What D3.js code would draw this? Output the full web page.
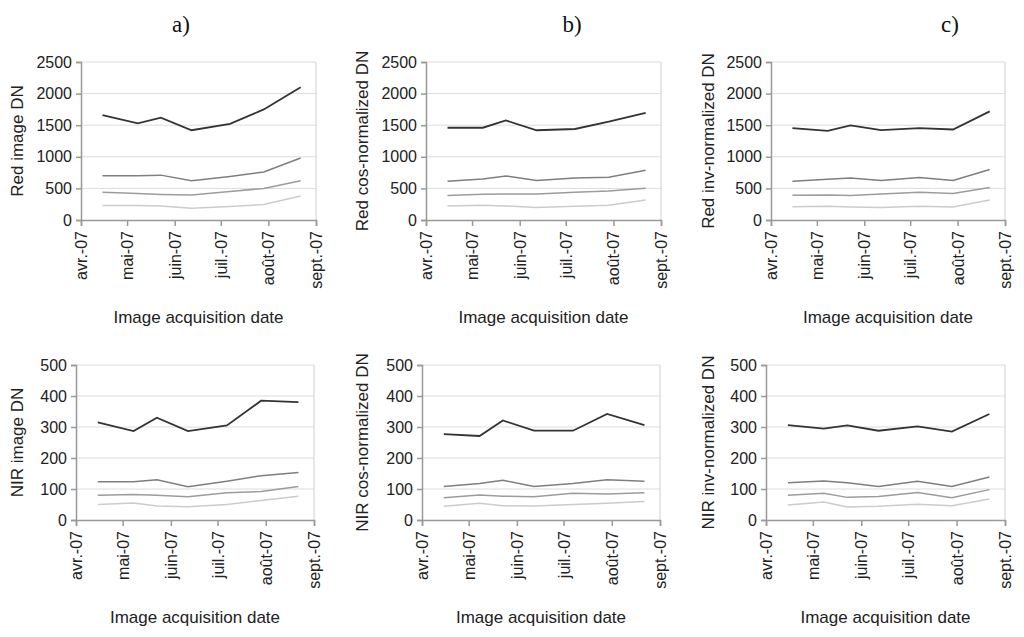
<!DOCTYPE html>
<html>
<head>
<meta charset="utf-8">
<script src="https://cdn.jsdelivr.net/npm/d3@7"></script>
<style>
  body { margin: 0; background: #fff; }
  text { font-family: "Liberation Sans", Arial, sans-serif; fill: #222; }
</style>
</head>
<body>
<svg id="chart" width="1024" height="637"></svg>
<script>
// acquisition dates (approx. read from the x positions)
var dates = ["2007-04-15", "2007-05-08", "2007-05-23", "2007-06-12", "2007-07-07", "2007-07-29", "2007-08-22"];
var tickDates = ["2007-04-01", "2007-05-01", "2007-06-01", "2007-07-01", "2007-08-01", "2007-09-01"];
var tickLabels = ["avr.-07", "mai-07", "juin-07", "juil.-07", "août-07", "sept.-07"];
var panelTitles = ["a)", "b)", "c)"];

// four land-cover series per panel, darkest first
var redImage = [
  [1660, 1530, 1620, 1420, 1520, 1750, 2100],
  [700, 700, 710, 620, 690, 760, 980],
  [440, 420, 405, 395, 450, 500, 620],
  [230, 230, 220, 185, 215, 245, 380]
];
var redCos = [
  [1460, 1460, 1575, 1420, 1440, 1555, 1695],
  [613, 650, 698, 624, 666, 677, 788],
  [386, 408, 410, 410, 439, 460, 502],
  [222, 233, 222, 196, 217, 233, 317]
];
var redInv = [
  [1453, 1411, 1496, 1422, 1453, 1432, 1718],
  [613, 645, 666, 624, 671, 624, 798],
  [391, 396, 386, 412, 439, 418, 513],
  [211, 217, 206, 196, 217, 206, 317]
];
var nirImage = [
  [315, 287, 330, 287, 305, 385, 380],
  [123, 123, 130, 107, 125, 143, 153],
  [80, 82, 80, 75, 88, 92, 108],
  [50, 55, 45, 43, 50, 63, 77]
];
var nirCos = [
  [277, 271, 321, 288, 288, 342, 306],
  [108, 118, 128, 108, 118, 130, 125],
  [72, 81, 77, 75, 86, 84, 88],
  [44, 54, 46, 45, 50, 54, 60]
];
var nirInv = [
  [306, 295, 305, 288, 302, 285, 342],
  [120, 126, 120, 108, 125, 108, 139],
  [80, 86, 73, 76, 89, 72, 98],
  [48, 58, 42, 44, 51, 46, 68]
];

var yTicksRed = [0, 500, 1000, 1500, 2000, 2500];
var yTicksNir = [0, 100, 200, 300, 400, 500];

var lineColors = ["#333333", "#7f7f7f", "#9c9c9c", "#cccccc"];
var lineWidths = [1.8, 1.5, 1.5, 1.5];

var parse = d3.timeParse("%Y-%m-%d");

var panels = [
  { data: redImage, label: "Red image DN",          ticks: yTicksRed, x0: 81,  x1: 316,  y0: 62,  y1: 220 },
  { data: redCos,   label: "Red cos-normalized DN", ticks: yTicksRed, x0: 426, x1: 661,  y0: 62,  y1: 220 },
  { data: redInv,   label: "Red inv-normalized DN", ticks: yTicksRed, x0: 771, x1: 1005, y0: 62,  y1: 220 },
  { data: nirImage, label: "NIR image DN",          ticks: yTicksNir, x0: 76,  x1: 314,  y0: 365, y1: 520 },
  { data: nirCos,   label: "NIR cos-normalized DN", ticks: yTicksNir, x0: 422, x1: 660,  y0: 365, y1: 520 },
  { data: nirInv,   label: "NIR inv-normalized DN", ticks: yTicksNir, x0: 766, x1: 1005, y0: 365, y1: 520 }
];
var labelX = [17, 362, 708];

var svg = d3.select("#chart");

// panel letters
var titleX = [181, 572, 950];
panelTitles.forEach(function(t, i) {
  svg.append("text")
    .attr("x", titleX[i])
    .attr("y", 32)
    .attr("text-anchor", "middle")
    .style("font-family", "'Liberation Serif', 'Times New Roman', serif")
    .style("font-size", "23px")
    .style("fill", "#111")
    .text(t);
});

panels.forEach(function(p, i) {
  var x = d3.scaleTime()
    .domain([parse(tickDates[0]), parse(tickDates[tickDates.length - 1])])
    .range([p.x0, p.x1]);
  var y = d3.scaleLinear()
    .domain([0, p.ticks[p.ticks.length - 1]])
    .range([p.y1, p.y0]);

  var g = svg.append("g");

  // grid lines
  g.selectAll(".grid")
    .data(p.ticks.slice(1))
    .enter().append("line")
    .attr("x1", p.x0).attr("x2", p.x1)
    .attr("y1", d => y(d)).attr("y2", d => y(d))
    .style("stroke", "#dcdcdc")
    .style("stroke-width", 1);

  // right border of the plot area
  g.append("line")
    .attr("x1", p.x1).attr("x2", p.x1)
    .attr("y1", p.y0).attr("y2", p.y1)
    .style("stroke", "#d0d0d0");

  // y axis
  var yAxis = g.append("g")
    .attr("transform", "translate(" + p.x0 + ",0)")
    .call(d3.axisLeft(y).tickValues(p.ticks).tickSize(5).tickPadding(4).tickFormat(d3.format("d")));
  yAxis.select(".domain").style("stroke", "#999").style("stroke-width", 1.5);
  yAxis.selectAll(".tick line").style("stroke", "#999").style("stroke-width", 1.5);
  yAxis.selectAll("text")
    .style("font-size", "16px")
    .style("font-family", "'Liberation Sans', Arial, sans-serif")
    .style("fill", "#222");

  // x axis
  var xAxis = g.append("g")
    .attr("transform", "translate(0," + p.y1 + ")")
    .call(d3.axisBottom(x).tickValues(tickDates.map(parse)).tickSize(6)
      .tickFormat((d, j) => tickLabels[j]));
  xAxis.select(".domain").style("stroke", "#999").style("stroke-width", 1.5);
  xAxis.selectAll(".tick line").style("stroke", "#999").style("stroke-width", 1.5);
  xAxis.selectAll("text")
    .attr("transform", "rotate(-90)")
    .attr("x", -11)
    .attr("y", 0)
    .attr("dy", "0.35em")
    .style("text-anchor", "end")
    .style("font-size", "16px")
    .style("font-family", "'Liberation Sans', Arial, sans-serif")
    .style("fill", "#222");

  // series lines
  var line = d3.line()
    .x((d, j) => x(parse(dates[j])))
    .y(d => y(d));
  g.selectAll(".series")
    .data(p.data.slice().reverse())
    .enter().append("path")
    .attr("d", line)
    .style("fill", "none")
    .style("stroke", (d, j) => lineColors[p.data.length - 1 - j])
    .style("stroke-width", (d, j) => lineWidths[p.data.length - 1 - j]);

  // axis titles
  g.append("text")
    .attr("x", (p.x0 + p.x1) / 2)
    .attr("y", p.y1 + 103)
    .attr("text-anchor", "middle")
    .style("font-size", "17px")
    .text("Image acquisition date");

  g.append("text")
    .attr("transform", "translate(" + (labelX[i % 3] + 6) + "," + ((p.y0 + p.y1) / 2) + ") rotate(-90)")
    .attr("text-anchor", "middle")
    .style("font-size", "17px")
    .text(p.label);
});
</script>
</body>
</html>
